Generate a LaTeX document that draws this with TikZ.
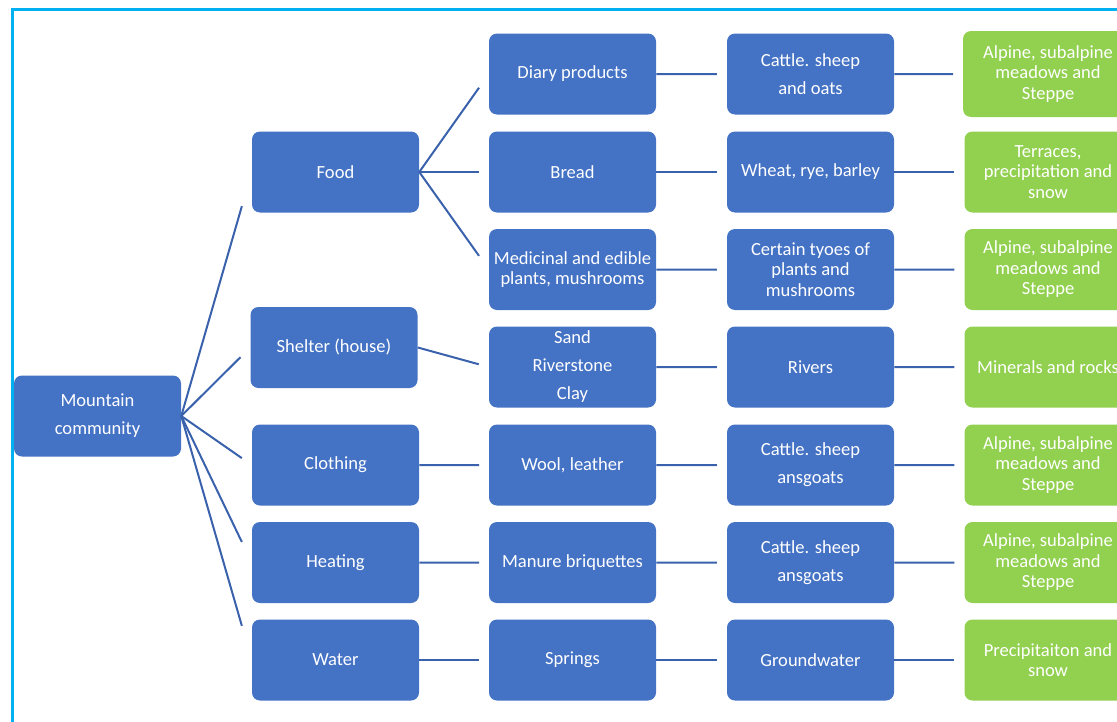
\documentclass[tikz,border=0pt]{standalone}
\usepackage{fontspec}
\setmainfont{Carlito}
\usepackage{xcolor}
\usepackage{tikz}
\usetikzlibrary{calc}
\definecolor{boxblue}{HTML}{4472C4}
\definecolor{linkblue}{HTML}{3A62AC}
\definecolor{leafgreen}{HTML}{92D050}
\definecolor{framecyan}{HTML}{00B0F0}

\begin{document}
\begin{tikzpicture}[x=0.75pt, y=-0.75pt,
    every node/.style={font=\fontsize{13.9}{15.4}\selectfont, text=white, align=center},
    blk/.style={fill=boxblue, rounded corners=6pt, minimum width=125.25pt, minimum height=60.75pt, inner sep=0pt},
    leaf/.style={blk, fill=leafgreen},
    wide/.style={font=\fontsize{13.9}{21}\selectfont},
    link/.style={draw=linkblue, line width=1.5pt, to path={-- ($(\tikztostart)!0.86!(\tikztotarget)$)}}]
    \useasboundingbox (0,0) rectangle (1117,721);
    \clip (0,0) rectangle (1117,721);
    \draw[framecyan, line width=2.25pt] (12,740) -- (12,9) -- (1140,9);

    \node[blk, wide] (root) at (97.5,416) {Mountain\\community};

    \node[blk] (food) at (335.5,172) {Food};
    \node[blk] (shelter) at (334,347.5) {Shelter (house)};
    \node[blk] (clothing) at (335.5,465) {Clothing};
    \node[blk] (heating) at (335.5,562.5) {Heating};
    \node[blk] (water) at (335.5,660) {Water};

    \node[blk] (dairy) at (572.5,74) {Diary products};
    \node[blk] (bread) at (572.5,172) {Bread};
    \node[blk] (herbs) at (572.5,269.5) {Medicinal and edible\\plants, mushrooms};
    \node[blk, wide] (sand) at (572.5,367) {Sand\\Riverstone\\Clay};
    \node[blk] (wool) at (572.5,465) {Wool, leather};
    \node[blk] (manure) at (572.5,562.5) {Manure briquettes};
    \node[blk] (springs) at (572.5,660) {Springs};

    \node[blk, wide] (cattleA) at (810.5,74) {Cattle. sheep\\and oats};
    \node[blk] (grain) at (810.5,172) {Wheat, rye, barley};
    \node[blk] (plants) at (810.5,269.5) {Certain tyoes of\\plants and\\mushrooms};
    \node[blk] (rivers) at (810.5,367) {Rivers};
    \node[blk, wide] (cattleB) at (810.5,465) {Cattle. sheep\\ansgoats};
    \node[blk, wide] (cattleC) at (810.5,562.5) {Cattle. sheep\\ansgoats};
    \node[blk] (ground) at (810.5,660) {Groundwater};

    \node[leaf, minimum width=127.5pt, minimum height=64.5pt] (meadowA) at (1048,74) {Alpine, subalpine\\meadows and\\Steppe};
    \node[leaf] (terraces) at (1048,172) {Terraces,\\precipitation and\\snow};
    \node[leaf] (meadowB) at (1048,269.5) {Alpine, subalpine\\meadows and\\Steppe};
    \node[leaf] (rocks) at (1048,367) {Minerals and rocks};
    \node[leaf] (meadowC) at (1048,465) {Alpine, subalpine\\meadows and\\Steppe};
    \node[leaf] (meadowD) at (1048,562.5) {Alpine, subalpine\\meadows and\\Steppe};
    \node[leaf] (rain) at (1048,660) {Precipitaiton and\\snow};

    \foreach \a/\b in {root/food, root/shelter, root/clothing, root/heating, root/water,
        food/dairy, food/bread, food/herbs, shelter/sand, clothing/wool, heating/manure, water/springs,
        dairy/cattleA, bread/grain, herbs/plants, sand/rivers, wool/cattleB, manure/cattleC, springs/ground,
        cattleA/meadowA, grain/terraces, plants/meadowB, rivers/rocks, cattleB/meadowC, cattleC/meadowD, ground/rain}
        \draw[link] (\a.east) to (\b.west);
\end{tikzpicture}
\end{document}
